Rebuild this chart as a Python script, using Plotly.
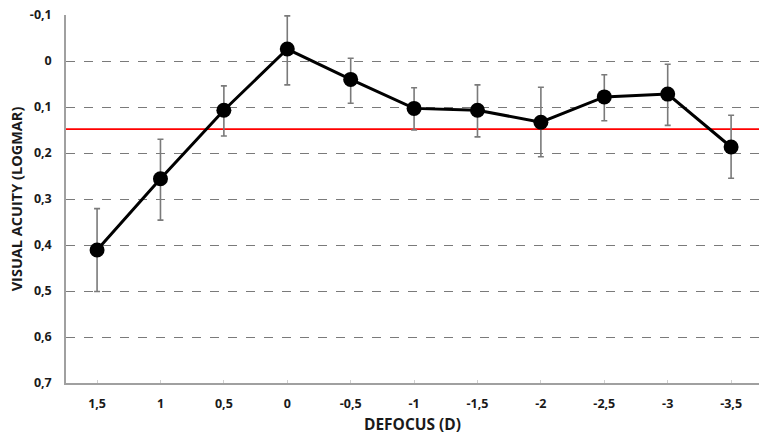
import plotly.graph_objects as go

defocus = ["1,5", "1", "0,5", "0", "-0,5", "-1", "-1,5", "-2", "-2,5", "-3", "-3,5"]
acuity = [0.411, 0.256, 0.107, -0.026, 0.040, 0.103, 0.107, 0.133, 0.078, 0.072, 0.187]
err_plus = [0.090, 0.090, 0.056, 0.078, 0.052, 0.047, 0.058, 0.075, 0.052, 0.068, 0.068]
err_minus = [0.090, 0.086, 0.053, 0.072, 0.046, 0.045, 0.055, 0.076, 0.048, 0.065, 0.069]
threshold = 0.148
y_ticks = [-0.1, 0, 0.1, 0.2, 0.3, 0.4, 0.5, 0.6, 0.7]
y_ticktext = ["-0,1", "0", "0,1", "0,2", "0,3", "0,4", "0,5", "0,6", "0,7"]

fig = go.Figure()
fig.add_trace(go.Scatter(
    x=defocus, y=acuity, mode="lines+markers",
    line=dict(color="black", width=3),
    marker=dict(color="black", size=15),
    error_y=dict(type="data", symmetric=False, array=err_plus, arrayminus=err_minus,
                 color="#7a7a7a", thickness=1.6, width=3),
    showlegend=False,
))
fig.add_shape(type="line", xref="paper", x0=0, x1=1, yref="y", y0=threshold, y1=threshold,
              line=dict(color="#ff0000", width=1.6), layer="below")

fig.update_layout(
    width=759, height=435,
    margin=dict(l=66, r=0, t=15, b=52, autoexpand=False),
    plot_bgcolor="white", paper_bgcolor="white",
    font=dict(family="Open Sans", color="#1a1a1a"),
    xaxis=dict(
        type="category",
        range=[-0.49, 10.44], autorange=False,
        showline=True, linecolor="#a0a0a0", linewidth=1.5,
        showgrid=False,
        ticks="inside", ticklen=3, tickcolor="#d0d0d0",
        tickfont=dict(size=12.5, family="Open Sans", weight="bold"),
        ticklabelstandoff=8,
        title=dict(text="DEFOCUS (D)", font=dict(size=15.5, weight="bold"), standoff=10),
    ),
    yaxis=dict(
        range=[0.7, -0.1], autorange=False,
        tickvals=y_ticks, ticktext=y_ticktext,
        showline=True, linecolor="#a0a0a0", linewidth=1.5,
        showgrid=True, gridcolor="#7a7a7a", griddash="dash", gridwidth=1,
        zeroline=False,
        tickfont=dict(size=12.5, family="Open Sans", weight="bold"),
        ticklabelstandoff=10,
        title=dict(text="VISUAL ACUITY (LOGMAR)", font=dict(size=14.5, weight="bold"), standoff=4),
    ),
)
fig.write_html("out.html")
